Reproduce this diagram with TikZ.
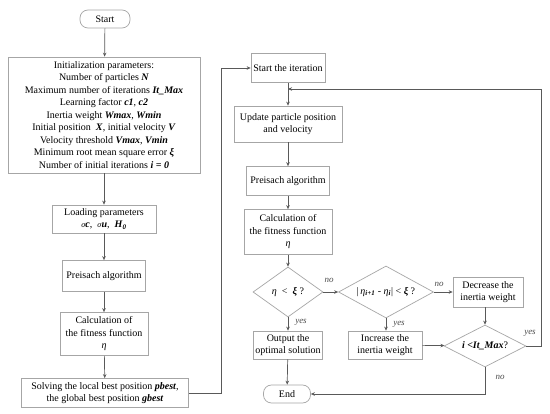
\documentclass[tikz,border=0pt]{standalone}
\usepackage{fontspec}
\setmainfont{Liberation Serif}
\usetikzlibrary{shapes.geometric,arrows.meta,calc}
\newcommand{\bi}[1]{\textbf{\textit{#1}}}
\begin{document}
\begin{tikzpicture}[x=1pt,y=-1pt,
  font=\fontsize{10}{12.5}\selectfont,
  box/.style={draw=black!35,line width=0.7pt,rectangle,inner sep=1pt,align=center},
  term/.style={box,rounded corners=8pt},
  dia/.style={draw=black!35,line width=0.7pt,diamond,inner sep=0pt,align=center},
  arr/.style={draw=black!65,line width=0.7pt,-{Stealth[length=4pt,width=3.5pt]}},
  lab/.style={font=\fontsize{9}{10}\selectfont\itshape,text=black!70}]
\useasboundingbox (0,0) rectangle (550,414);
\fill[white] (0,0) rectangle (550,414);
% left column
\node[term,minimum width=50pt,minimum height=18pt] (start) at (105,19) {Start};
\node[box,minimum width=192pt,minimum height=116pt] (init) at (104,115) {Initialization parameters:\\
Number of particles \bi{N}\\
Maximum number of iterations \bi{It\_Max}\\
Learning factor \bi{c1}, \bi{c2}\\
Inertia weight \bi{Wmax}, \bi{Wmin}\\
Initial position\ \ \bi{X}, initial velocity \bi{V}\\
Velocity threshold \bi{Vmax}, \bi{Vmin}\\
Minimum root mean square error \bi{ξ}\\
Number of initial iterations \bi{i = 0}};
\node[box,minimum width=104pt,minimum height=28pt] (load) at (104,219) {Loading parameters\\
{\fontsize{8}{9}\selectfont\textit{σ}}\bi{c},\ \ {\fontsize{8}{9}\selectfont\textit{σ}}\bi{u},\ \ \bi{H}\textsubscript{\bi{0}}};
\node[box,minimum width=83pt,minimum height=31pt] (pre1) at (104,276) {Preisach algorithm};
\node[box,minimum width=88pt,minimum height=43pt] (calc1) at (104,334) {Calculation of\\the fitness function\\\textit{η}};
\node[box,minimum width=167pt,minimum height=29pt] (solve) at (105,393) {Solving the local best position \bi{pbest},\\the global best position \bi{gbest}};
% right column
\node[box,minimum width=74pt,minimum height=29pt] (sit) at (288,68) {Start the iteration};
\node[box,minimum width=108pt,minimum height=36pt] (upd) at (288,124) {Update particle position\\and velocity};
\node[box,minimum width=83pt,minimum height=29pt] (pre2) at (288,181) {Preisach algorithm};
\node[box,minimum width=88pt,minimum height=45pt] (calc2) at (288,232) {Calculation of\\the fitness function\\\textit{η}};
\node[dia,minimum width=70pt,minimum height=50pt,aspect=1.4] (d1) at (288,292) {\textit{η}\ \ <\ \ \bi{ξ} ?};
\node[dia,minimum width=95pt,minimum height=52pt,aspect=1.8] (d2) at (386,292) {|\,\textit{η}\textsubscript{\bi{i+1}} - \textit{η}\textsubscript{\bi{i}}| < \bi{ξ} ?};
\node[box,minimum width=70pt,minimum height=30pt] (dec) at (488,292) {Decrease the\\inertia weight};
\node[dia,minimum width=82pt,minimum height=42pt,aspect=1.95] (d3) at (485,346) {\bi{i <It\_Max}?};
\node[box,minimum width=69pt,minimum height=28pt] (out) at (288,345) {Output the\\optimal solution};
\node[box,minimum width=74pt,minimum height=28pt] (inc) at (385,345) {Increase the\\inertia weight};
\node[term,minimum width=47pt,minimum height=18pt] (end) at (287,394) {End};
\coordinate (j1) at (221,68);
\coordinate (j2) at (541,89);
\coordinate (j3) at (288,89);
% connectors
\draw[arr] (start) -- (init);
\draw[arr] (init) -- (load);
\draw[arr] (load) -- (pre1);
\draw[arr] (pre1) -- (calc1);
\draw[arr] (calc1) -- (solve);
\draw[arr] (solve.east) -| (j1) -- (sit.west);
\draw[arr] (sit) -- (upd);
\draw[arr] (upd) -- (pre2);
\draw[arr] (pre2) -- (calc2);
\draw[arr] (calc2) -- (d1);
\draw[arr] (d1) -- (d2);
\draw[arr] (d2) -- (dec);
\draw[arr] (d1) -- (out);
\draw[arr] (d2.south) -- (d2.south |- inc.north);
\draw[arr] (dec.south -| d3.north) -- (d3.north);
\draw[arr] (inc) -- (d3);
\draw[arr] (out) -- (end);
\draw[arr] (d3.south) |- (end.east);
\draw[arr] (d3.east) -| (j2) -- (j3);
% labels
\node[lab] (l1) at (329,280) {no};
\node[lab] (l2) at (439,284) {no};
\node[lab] (l3) at (301,322) {yes};
\node[lab] (l4) at (399,324) {yes};
\node[lab] (l5) at (530,333) {yes};
\node[lab] (l6) at (500,377) {no};
\end{tikzpicture}
\end{document}
